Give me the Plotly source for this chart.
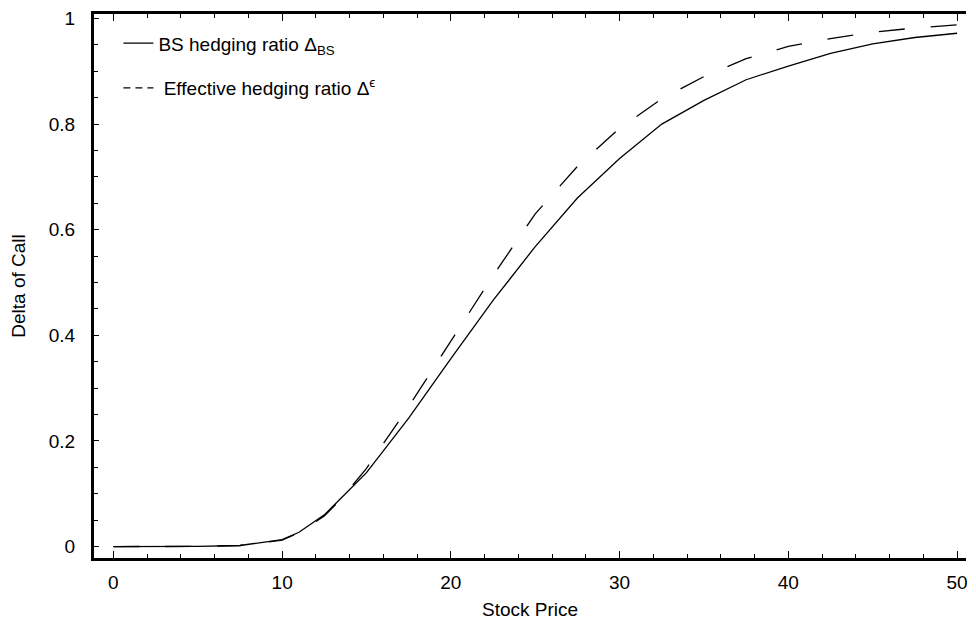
import plotly.graph_objects as go

stock_price = [0, 2.5, 5, 7.5, 10, 11, 12.5, 13.5, 15, 17.5, 20, 22.5, 25, 27.5,
               30, 32.5, 35, 37.5, 40, 42.5, 45, 47.5, 50]
delta_bs = [0, 0, 0.0002, 0.002, 0.013, 0.027, 0.06, 0.092, 0.14, 0.243, 0.356,
            0.466, 0.568, 0.66, 0.735, 0.80, 0.845, 0.884, 0.91, 0.934, 0.952,
            0.964, 0.972]
delta_eff = [0, 0, 0.0002, 0.002, 0.012, 0.026, 0.058, 0.09, 0.148, 0.265, 0.39,
             0.513, 0.63, 0.72, 0.792, 0.848, 0.89, 0.924, 0.947, 0.962, 0.974,
             0.982, 0.988]

x_ticks = [0, 10, 20, 30, 40, 50]
y_ticks = [0, 0.2, 0.4, 0.6, 0.8, 1]
y_tick_labels = ["0", "0.2", "0.4", "0.6", "0.8", "1"]

name_bs = "BS hedging ratio Δ<sub>BS</sub>"
name_eff = "\u00a0Effective hedging ratio Δ<sup>ϵ</sup>"

font = "Liberation Sans, Arial, sans-serif"
FS = 19

fig = go.Figure()
fig.add_trace(go.Scatter(
    x=stock_price, y=delta_bs, mode="lines",
    name=name_bs, legendgroup="a",
    line=dict(color="black", width=1.3),
))
fig.add_trace(go.Scatter(
    x=stock_price, y=delta_eff, mode="lines",
    name=name_eff, legendgroup="b", showlegend=False,
    line=dict(color="black", width=1.3, dash="26px,26px"),
))
# legend proxy for the dashed series (short dashes as in the reference legend)
fig.add_trace(go.Scatter(
    x=[None], y=[None], mode="lines",
    name=name_eff, legendgroup="b",
    line=dict(color="black", width=1.3, dash="7px,5px"),
))

fig.update_layout(
    width=960, height=612,
    margin=dict(l=85.5, r=0, t=4.5, b=61.5),
    paper_bgcolor="white", plot_bgcolor="white",
    font=dict(family=font, size=FS, color="black"),
    showlegend=True,
    legend=dict(
        x=0.028, y=0.981, xanchor="left", yanchor="top",
        bgcolor="rgba(0,0,0,0)", borderwidth=0,
        traceorder="grouped", tracegroupgap=17,
        font=dict(family=font, size=FS, color="black"),
    ),
    xaxis=dict(
        range=[-1.15, 50.53],
        tickvals=x_ticks, ticks="inside", ticklen=7, tickwidth=1, tickcolor="black",
        minor=dict(dtick=2, tick0=0, ticks="inside", ticklen=4, tickwidth=1, tickcolor="black"),
        showline=True, linecolor="black", linewidth=3, mirror="ticks",
        showgrid=False, zeroline=False,
        ticklabelstandoff=5, ticklabeloverflow="allow",
        tickfont=dict(family=font, size=FS),
        title=dict(text="Stock Price", font=dict(family=font, size=FS), standoff=13),
    ),
    yaxis=dict(
        range=[-0.0217, 1.0085],
        tickvals=y_ticks, ticktext=y_tick_labels,
        ticks="inside", ticklen=5, tickwidth=1, tickcolor="black",
        minor=dict(dtick=0.05, tick0=0, ticks="inside", ticklen=4, tickwidth=1, tickcolor="black"),
        showline=True, linecolor="black", linewidth=3, mirror=False,
        showgrid=False, zeroline=False,
        ticklabelstandoff=12, ticklabeloverflow="allow",
        tickfont=dict(family=font, size=FS),
        title=dict(text="Delta of Call", font=dict(family=font, size=FS), standoff=20),
    ),
)

fig.write_html("out.html")
